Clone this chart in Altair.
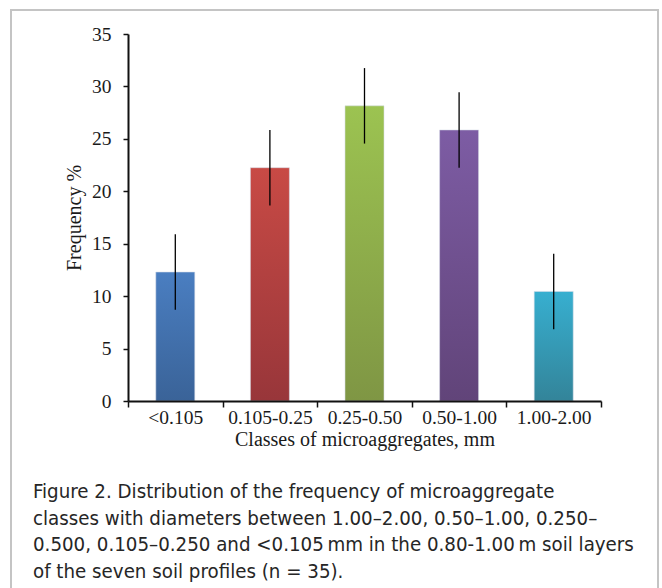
import altair as alt
import pandas as pd

categories = ["<0.105", "0.105-0.25", "0.25-0.50", "0.50-1.00", "1.00-2.00"]
means = [12.3, 22.25, 28.15, 25.85, 10.45]
sd = [3.6, 3.6, 3.6, 3.6, 3.6]
top_colors = ["#4a7ec1", "#c84a45", "#9cc351", "#7d5ca4", "#37afd0"]
bottom_colors = ["#3a6398", "#98363a", "#7f9644", "#614479", "#338499"]
caption_lines = [
    "Figure 2. Distribution of the frequency of microaggregate",
    "classes with diameters between 1.00\u20132.00, 0.50\u20131.00, 0.250\u2013",
    "0.500, 0.105\u20130.250 and <0.105\u2009mm in the 0.80-1.00\u2009m soil layers",
    "of the seven soil profiles (n = 35).",
]

df = pd.DataFrame({
    "cls": categories,
    "freq": means,
    "lo": [m - s for m, s in zip(means, sd)],
    "hi": [m + s for m, s in zip(means, sd)],
})

SERIF = "Liberation Serif, Times New Roman, serif"
CAPFONT = "DejaVu Sans Condensed, Liberation Sans Narrow, Roboto, sans-serif"

x_enc = alt.X(
    "cls:N",
    sort=categories,
    scale=alt.Scale(domain=categories, paddingInner=0, paddingOuter=0),
    axis=alt.Axis(
        title="Classes of microaggregates, mm",
        labelAngle=0,
        tickBand="extent",
        tickSize=6,
        tickWidth=1.5,
        tickColor="#111111",
        domainColor="#111111",
        domainWidth=2,
        labelFont=SERIF,
        labelFontSize=19.5,
        labelColor="#1a1a1a",
        labelPadding=1,
        titleFont=SERIF,
        titleFontSize=20,
        titleFontWeight="normal",
        titleColor="#1a1a1a",
        titlePadding=3,
        zindex=1,
    ),
)
y_axis = alt.Axis(
    title="Frequency %",
    values=list(range(0, 36, 5)),
    grid=False,
    tickSize=5,
    tickWidth=1.5,
    tickColor="#111111",
    domainColor="#111111",
    domainWidth=2,
    labelFont=SERIF,
    labelFontSize=19.5,
    labelColor="#1a1a1a",
    labelPadding=12,
    titleFont=SERIF,
    titleFontSize=20,
    titleFontWeight="normal",
    titleColor="#1a1a1a",
    titlePadding=7,
    zindex=1,
)
y_scale = alt.Scale(domain=[0, 35], nice=False)

layers = []
one = pd.DataFrame({"k": [0]})
border = alt.Chart(one).mark_rect(
    fillOpacity=0, stroke="#c4c4c4", strokeWidth=2
).encode(
    x=alt.value(-117), x2=alt.value(530), y=alt.value(-24), y2=alt.value(575)
)
layers.append(border)

for i, c in enumerate(categories):
    grad = {
        "gradient": "linear",
        "x1": 0, "y1": 0, "x2": 0, "y2": 1,
        "stops": [
            {"offset": 0, "color": top_colors[i]},
            {"offset": 1, "color": bottom_colors[i]},
        ],
    }
    bar = alt.Chart(df).transform_filter(alt.datum.cls == c).mark_bar(
        size=39, fill=grad, stroke="#d8dde8", strokeWidth=0.8, strokeOpacity=0.7
    ).encode(
        x=x_enc,
        y=alt.Y("freq:Q", scale=y_scale, axis=y_axis),
    )
    layers.append(bar)

err = alt.Chart(df).mark_rule(color="#000000", strokeWidth=1.3).encode(
    x=alt.X("cls:N", sort=categories),
    y=alt.Y("lo:Q", scale=y_scale),
    y2="hi:Q",
)
layers.append(err)

caption = alt.Chart(one).mark_text(
    text=caption_lines,
    align="left",
    baseline="alphabetic",
    font=CAPFONT,
    fontSize=20.3,
    lineHeight=26.7,
    color="#262626",
).encode(x=alt.value(-95), y=alt.value(464))
layers.append(caption)

chart = alt.layer(*layers).properties(
    width=473,
    height=367,
    autosize=alt.AutoSizeParams(type="none"),
    padding={"left": 128, "top": 34, "right": 61, "bottom": 187},
    background="white",
).configure_view(stroke=None)

chart.save("out.html", embed_options={"renderer": "svg", "actions": False})
